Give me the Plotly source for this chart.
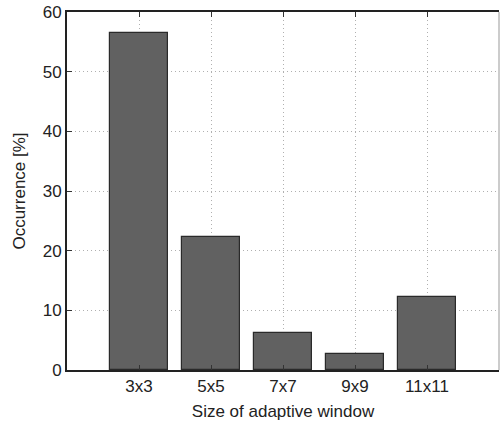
import plotly.graph_objects as go

# Share of pixels for each adaptive window size
categories = ["3x3", "5x5", "7x7", "9x9", "11x11"]
occurrence = [56.4, 22.3, 6.25, 2.6, 12.3]
y_ticks = [0, 10, 20, 30, 40, 50, 60]

positions = list(range(1, len(categories) + 1))

fig = go.Figure()
fig.add_trace(go.Bar(
    x=positions,
    y=occurrence,
    width=0.8,
    marker=dict(color="#616161", line=dict(color="#2a2a2a", width=1.2)),
    showlegend=False,
))

font = dict(family="Liberation Sans, Arial, sans-serif", size=17, color="#222222")

fig.update_layout(
    width=501,
    height=427,
    margin=dict(l=67, r=2, t=12, b=57),
    plot_bgcolor="white",
    paper_bgcolor="white",
    font=font,
    bargap=0,
)

grid_style = dict(showgrid=True, gridcolor="#b0b0b0", griddash="1px,3px", gridwidth=1)

fig.update_xaxes(
    range=[0, 6],
    tickmode="array",
    tickvals=positions,
    ticktext=categories,
    ticks="inside",
    ticklen=5,
    tickcolor="#333333",
    showline=True,
    linecolor="#222222",
    linewidth=2,
    mirror="ticks",
    zeroline=False,
    title=dict(text="Size of adaptive window", standoff=10, font=font),
    **grid_style,
)

fig.update_yaxes(
    range=[0, 60],
    tickmode="array",
    tickvals=y_ticks,
    ticks="inside",
    ticklen=5,
    tickcolor="#333333",
    showline=True,
    linecolor="#222222",
    linewidth=2,
    zeroline=False,
    title=dict(text="Occurrence [%]", standoff=13, font=font),
    **grid_style,
)

# right frame edge is drawn lighter than the others
fig.add_shape(type="line", xref="paper", yref="paper", x0=1, x1=1, y0=0, y1=1,
              line=dict(color="#bbbbbb", width=1.5), layer="above")

fig.write_html("out.html")
